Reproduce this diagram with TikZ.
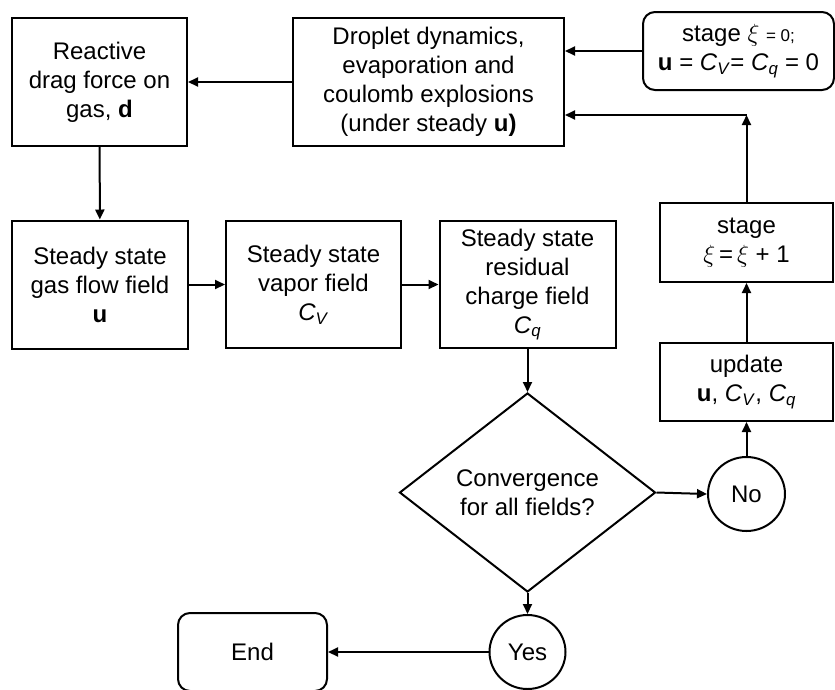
\documentclass[tikz,border=0pt]{standalone}
\usepackage{fontspec}
\setmainfont{Liberation Sans}
\usetikzlibrary{shapes.geometric,arrows.meta}
\newcommand{\CVv}{\textit{C}\textsubscript{\textit{V}}}
\newcommand{\CQq}{\textit{C}\textsubscript{\textit{q}}}
\begin{document}
\begin{tikzpicture}[x=1pt,y=-1pt,
  box/.style={draw, line width=2pt, align=center, inner sep=0pt, font=\fontsize{24}{29}\selectfont},
  rbox/.style={box, rounded corners=12pt},
  ellbox/.style={box, ellipse},
  arr/.style={line width=2pt, -{Triangle[length=10pt,width=9pt]}}]
\useasboundingbox (0,0) rectangle (835,689);
\node[box, minimum width=175pt, minimum height=128pt] (react) at (99.5,82) {Reactive\\drag force on\\gas, \textbf{d}};
\node[box, minimum width=271pt, minimum height=128pt] (drop) at (428.5,82) {Droplet dynamics,\\evaporation and\\coulomb explosions\\(under steady \textbf{u)}};
\node[rbox, minimum width=191pt, minimum height=78pt] (init) at (738.5,51) {stage $\xi$ {\fontsize{17}{20}\selectfont= 0;}\\\textbf{u} = \CVv= \CQq{} = 0};
\node[box, minimum width=176pt, minimum height=128pt] (gas) at (100,284.5) {Steady state\\gas flow field\\\textbf{u}};
\node[box, minimum width=175pt, minimum height=127pt] (vap) at (313.5,284.5) {Steady state\\vapor field\\\CVv};
\node[box, minimum width=176pt, minimum height=127pt] (res) at (527.5,284.5) {Steady state\\residual\\charge field\\\CQq};
\node[box, minimum width=173pt, minimum height=79pt] (stage) at (746.5,242.5) {stage\\$\xi$\,=\,$\xi$ + 1};
\node[box, minimum width=173pt, minimum height=78pt] (upd) at (746.5,382) {update\\\textbf{u}, \CVv, \CQq};
\node[box, diamond, aspect=1.3, minimum width=256pt, minimum height=199pt] (conv) at (527.5,492.5) {Convergence\\for all fields?};
\node[ellbox, minimum width=77pt, minimum height=74pt] (no) at (746.5,494) {No};
\node[ellbox, minimum width=76pt, minimum height=74pt] (yes) at (527.5,652) {Yes};
\node[rbox, minimum width=149pt, minimum height=78pt] (end) at (252.5,652) {End};
\coordinate (corner) at (746.5,115);
\draw[arr] (drop) -- (react);
\draw[arr] (init.west) -- (init.west -| drop.east);
\draw[arr] (stage.north) -- (corner);
\draw[arr] (corner) -- (corner -| drop.east);
\draw[arr] (react) -- (gas);
\draw[arr] (gas) -- (vap);
\draw[arr] (vap) -- (res);
\draw[arr] (res) -- (conv);
\draw[arr] (conv.east) -- (no.west);
\draw[arr] (no) -- (upd);
\draw[arr] (upd) -- (stage);
\draw[arr] (conv.south) -- (yes.north);
\draw[arr] (yes) -- (end);
\end{tikzpicture}
\end{document}
